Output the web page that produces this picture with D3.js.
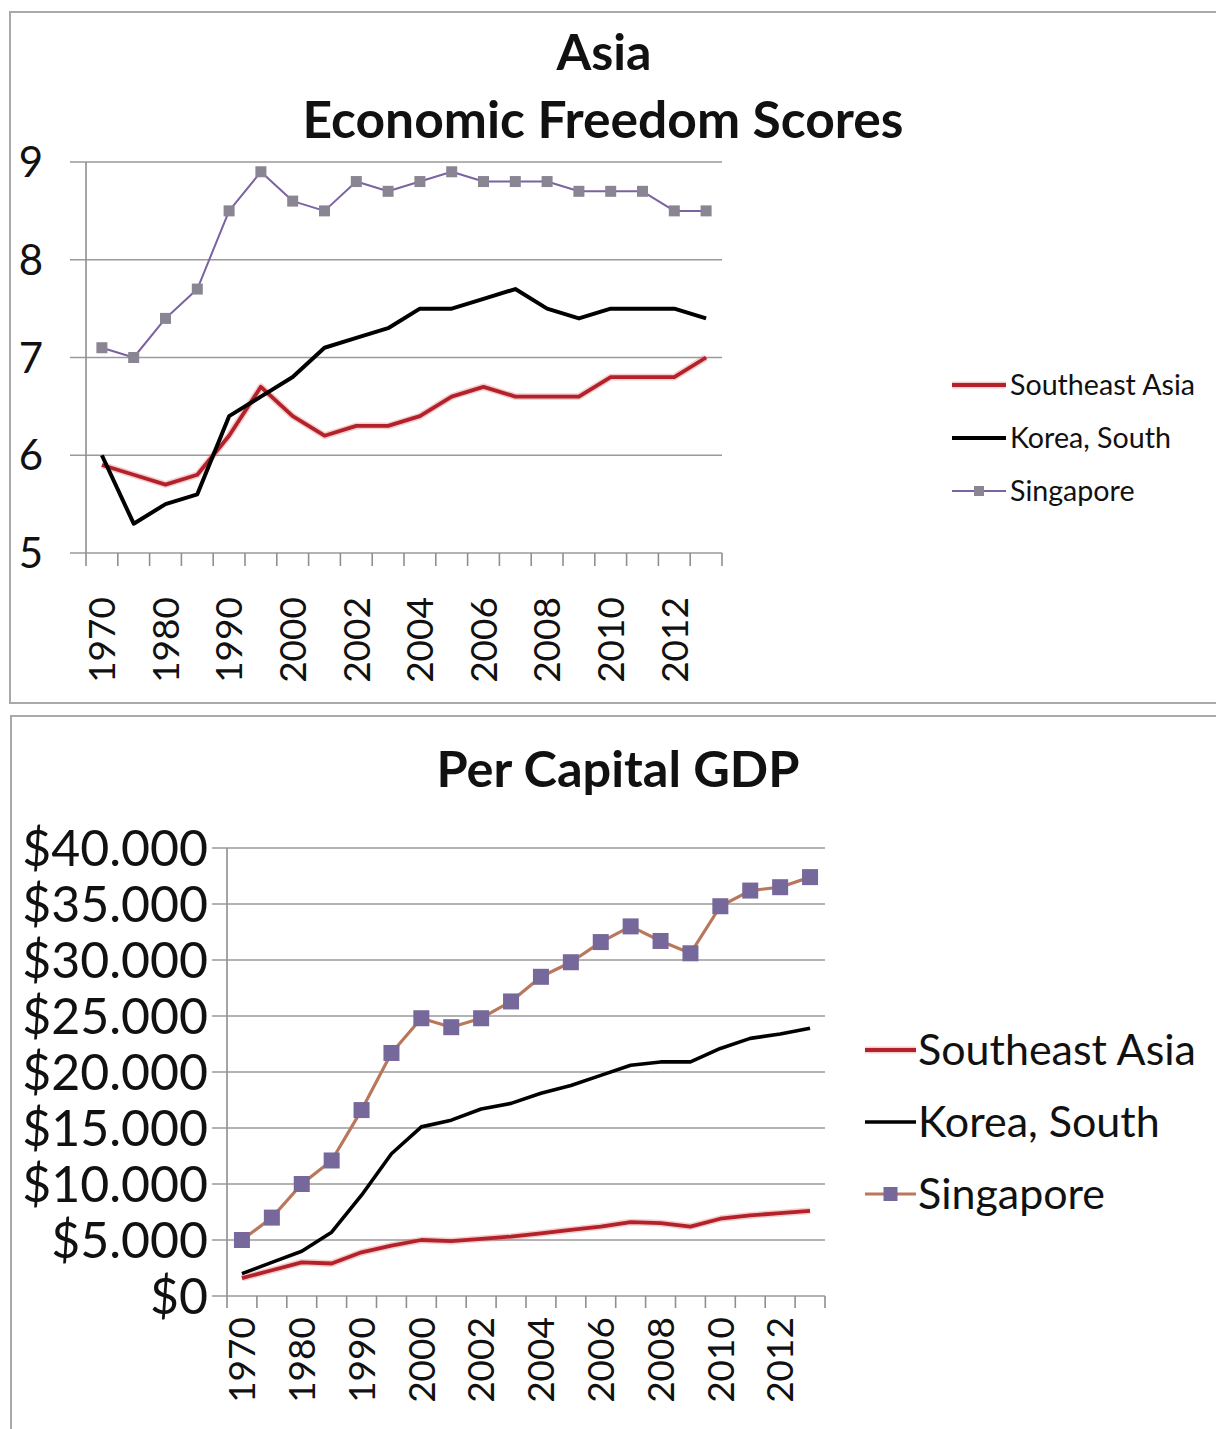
<!DOCTYPE html>
<html>
<head>
<meta charset="utf-8">
<script src="https://cdn.jsdelivr.net/npm/d3@7"></script>
<style>
  html, body { margin: 0; padding: 0; background: #ffffff; }
  svg { display: block; }
  text { font-family: Lato, "Open Sans", sans-serif; fill: #111; }
</style>
</head>
<body>
<svg id="chart" width="1216" height="1429"></svg>
<script>
// ---------------- data ----------------
const categories = ["1970","1975","1980","1985","1990","1995","2000","2001","2002","2003",
                    "2004","2005","2006","2007","2008","2009","2010","2011","2012","2013"];
const shownLabels = ["1970","1980","1990","2000","2002","2004","2006","2008","2010","2012"];
const seriesNames = ["Southeast Asia", "Korea, South", "Singapore"];

const freedomSEA       = [5.9,5.8,5.7,5.8,6.2,6.7,6.4,6.2,6.3,6.3,6.4,6.6,6.7,6.6,6.6,6.6,6.8,6.8,6.8,7.0];
const freedomKorea     = [6.0,5.3,5.5,5.6,6.4,6.6,6.8,7.1,7.2,7.3,7.5,7.5,7.6,7.7,7.5,7.4,7.5,7.5,7.5,7.4];
const freedomSingapore = [7.1,7.0,7.4,7.7,8.5,8.9,8.6,8.5,8.8,8.7,8.8,8.9,8.8,8.8,8.8,8.7,8.7,8.7,8.5,8.5];
const freedomTicks     = [5,6,7,8,9];

const gdpSEA       = [1600,2300,3000,2900,3900,4500,5000,4900,5100,5300,5600,5900,6200,6600,6500,6200,6900,7200,7400,7600];
const gdpKorea     = [2000,3000,4000,5700,9000,12700,15100,15700,16700,17200,18100,18800,19700,20600,20900,20900,22100,23000,23400,23900];
const gdpSingapore = [5000,7000,10000,12100,16600,21700,24800,24000,24800,26300,28500,29800,31600,33000,31700,30600,34800,36200,36500,37400];
const gdpTicks     = [0,5000,10000,15000,20000,25000,30000,35000,40000];

// ---------------- helpers ----------------
const svg = d3.select("#chart");
const locale = d3.formatLocale({decimal: ",", thousands: ".", grouping: [3], currency: ["$", ""]});
const fmtMoney = locale.format("$,.0f");

function fitText(sel, targetW) {
  const node = sel.node();
  const fs = parseFloat(sel.attr("font-size"));
  const w = node.getComputedTextLength();
  if (w > 0) sel.attr("font-size", (fs * targetW / w).toFixed(2));
  return sel;
}

function panel(cfg) {
  const g = svg.append("g");
  // frame
  g.append("rect")
    .attr("x", cfg.frame[0]).attr("y", cfg.frame[1])
    .attr("width", cfg.frame[2]).attr("height", cfg.frame[3])
    .attr("fill", "none").attr("stroke", "#a9a9a9").attr("stroke-width", 2);

  const x = d3.scaleBand().domain(categories).range([cfg.left, cfg.right]).paddingInner(0).paddingOuter(0);
  const cx = c => x(c) + x.bandwidth() / 2;
  const y = d3.scaleLinear().domain(cfg.yDomain).range([cfg.bottom, cfg.top]);

  // gridlines (with left tick extension)
  g.selectAll(".grid").data(cfg.yTicks).join("line")
    .attr("x1", cfg.gridLeft).attr("x2", cfg.right)
    .attr("y1", d => y(d)).attr("y2", d => y(d))
    .attr("stroke", "#9a9a9a").attr("stroke-width", 1.6);

  // y axis line
  g.append("line").attr("x1", cfg.left).attr("x2", cfg.left)
    .attr("y1", y(cfg.yDomain[1])).attr("y2", cfg.bottom)
    .attr("stroke", "#8f8f8f").attr("stroke-width", 1.6);

  // x axis tick marks at category boundaries
  const bounds = categories.map(c => x(c)).concat([cfg.right]);
  g.selectAll(".xtick").data(bounds).join("line")
    .attr("x1", d => d).attr("x2", d => d)
    .attr("y1", cfg.bottom).attr("y2", cfg.bottom + cfg.tickLen)
    .attr("stroke", "#8f8f8f").attr("stroke-width", 1.6);

  // y labels
  g.selectAll(".ylab").data(cfg.yTicks).join("text")
    .attr("x", cfg.yLabelX).attr("y", d => y(d))
    .attr("dy", "0.36em")
    .attr("text-anchor", "end")
    .attr("font-size", cfg.yFont)
    .attr("fill", "#1a1a1a")
    .text(cfg.yFormat);

  // x labels rotated
  g.selectAll(".xlab").data(shownLabels).join("text")
    .attr("transform", d => `translate(${cx(d)},${cfg.xLabelTop}) rotate(-90)`)
    .attr("dy", "0.36em")
    .attr("text-anchor", "end")
    .attr("font-size", cfg.xFont)
    .attr("fill", "#1a1a1a")
    .text(d => d);

  // titles
  cfg.titles.forEach(t => {
    const tt = g.append("text")
      .attr("x", t.x).attr("y", t.y)
      .attr("text-anchor", "middle")
      .attr("font-weight", "bold")
      .attr("font-size", 40)
      .attr("fill", "#000")
      .text(t.text);
    fitText(tt, t.w);
  });

  const line = d3.line().x((d, i) => cx(categories[i])).y(d => y(d));

  // Southeast Asia (red with slight halo)
  g.append("path").datum(cfg.sea).attr("d", line)
    .attr("fill", "none").attr("stroke", "#e07070").attr("stroke-opacity", 0.35)
    .attr("stroke-width", cfg.redW + 3).attr("stroke-linejoin", "round");
  g.append("path").datum(cfg.sea).attr("d", line)
    .attr("fill", "none").attr("stroke", "#b3222a")
    .attr("stroke-width", cfg.redW).attr("stroke-linejoin", "round");

  // Korea
  g.append("path").datum(cfg.korea).attr("d", line)
    .attr("fill", "none").attr("stroke", "#000")
    .attr("stroke-width", cfg.blackW).attr("stroke-linejoin", "round");

  // Singapore
  g.append("path").datum(cfg.sing).attr("d", line)
    .attr("fill", "none").attr("stroke", cfg.singLine)
    .attr("stroke-width", cfg.singW).attr("stroke-linejoin", "round");
  const m = cfg.markerSize;
  g.selectAll(".mk").data(cfg.sing).join("rect")
    .attr("x", (d, i) => cx(categories[i]) - m / 2)
    .attr("y", d => y(d) - m / 2)
    .attr("width", m).attr("height", m)
    .attr("fill", cfg.markerFill);

  // legend
  const L = cfg.legend;
  seriesNames.forEach((name, i) => {
    const ly = L.y0 + i * L.dy;
    if (i === 0) {
      g.append("line").attr("x1", L.x1).attr("x2", L.x2).attr("y1", ly).attr("y2", ly)
        .attr("stroke", "#e07070").attr("stroke-opacity", 0.35).attr("stroke-width", cfg.redW + 3);
      g.append("line").attr("x1", L.x1).attr("x2", L.x2).attr("y1", ly).attr("y2", ly)
        .attr("stroke", "#b3222a").attr("stroke-width", cfg.redW);
    } else if (i === 1) {
      g.append("line").attr("x1", L.x1).attr("x2", L.x2).attr("y1", ly).attr("y2", ly)
        .attr("stroke", "#000").attr("stroke-width", cfg.blackW);
    } else {
      g.append("line").attr("x1", L.x1).attr("x2", L.x2).attr("y1", ly).attr("y2", ly)
        .attr("stroke", cfg.singLine).attr("stroke-width", cfg.singW);
      g.append("rect").attr("x", (L.x1 + L.x2) / 2 - L.m / 2).attr("y", ly - L.m / 2)
        .attr("width", L.m).attr("height", L.m).attr("fill", cfg.markerFill);
    }
    const t = g.append("text").attr("x", L.tx).attr("y", ly).attr("dy", "0.35em")
      .attr("font-size", L.font).attr("fill", "#222").text(name);
    if (i === 0) { fitText(t, L.w0); L.font = parseFloat(t.attr("font-size")); }
  });
}

// ---------------- top panel ----------------
panel({
  frame: [10, 12, 1230, 691],
  left: 86, right: 722, top: 162, bottom: 553,
  gridLeft: 70, tickLen: 13,
  yDomain: [5, 9], yTicks: freedomTicks, yFormat: d => d,
  yLabelX: 43, yFont: 42,
  xLabelTop: 597, xFont: 37,
  titles: [{text: "Asia", x: 604, y: 70, w: 95}, {text: "Economic Freedom Scores", x: 603, y: 138, w: 601}],
  sea: freedomSEA, korea: freedomKorea, sing: freedomSingapore,
  redW: 3.8, blackW: 4, singW: 2,
  singLine: "#7b62a3", markerFill: "#8a8592", markerSize: 11,
  legend: {x1: 952, x2: 1006, tx: 1010, y0: 385, dy: 53, font: 24, w0: 185, m: 10}
});

// ---------------- bottom panel ----------------
panel({
  frame: [11, 716, 1230, 760],
  left: 227, right: 825, top: 848, bottom: 1296,
  gridLeft: 212, tickLen: 12,
  yDomain: [0, 40000], yTicks: gdpTicks, yFormat: fmtMoney,
  yLabelX: 208, yFont: 50,
  xLabelTop: 1317, xFont: 37,
  titles: [{text: "Per Capital GDP", x: 618, y: 787, w: 363}],
  sea: gdpSEA, korea: gdpKorea, sing: gdpSingapore,
  redW: 3.8, blackW: 3.6, singW: 3.2,
  singLine: "#b9775c", markerFill: "#76689a", markerSize: 16,
  legend: {x1: 865, x2: 916, tx: 918, y0: 1050, dy: 72, font: 36, w0: 278, m: 14}
});
</script>
</body>
</html>
